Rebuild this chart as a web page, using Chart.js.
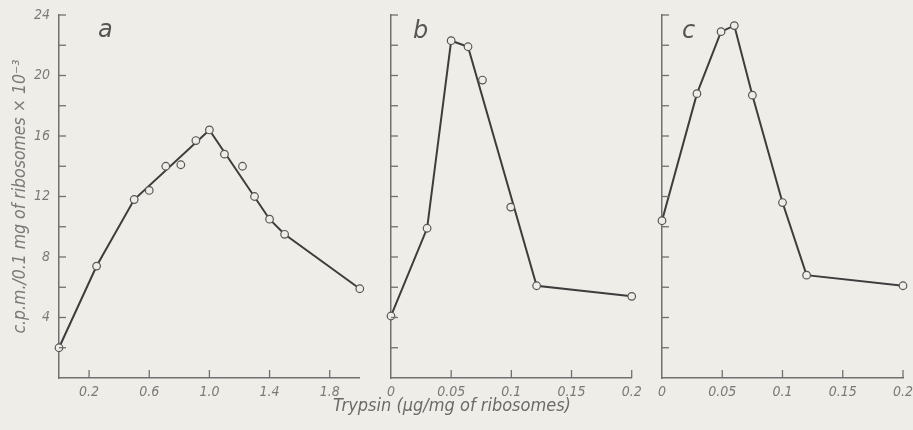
<!DOCTYPE html>
<html><head><meta charset="utf-8">
<script src="https://cdn.jsdelivr.net/npm/chart.js@4"></script>
<style>
html,body{margin:0;padding:0;background:#efede7;width:913px;height:430px;overflow:hidden;position:relative}
canvas{position:absolute;top:0}
#xt{position:absolute;top:395px;left:332px;width:240px;text-align:center;font:italic 18px 'Liberation Sans Narrow','DejaVu Sans Condensed',sans-serif;color:#6a6a6a;white-space:nowrap;line-height:20px}
</style></head><body>
<canvas id="ca" width="365" height="430" style="left:0"></canvas>
<canvas id="cb" width="282" height="430" style="left:365px"></canvas>
<canvas id="cc" width="281" height="430" style="left:632px"></canvas>
<div id="xt">Trypsin (μg/mg of ribosomes)</div>
<script>
// ---- data ----
const aX = [0, 0.25, 0.5, 0.6, 0.71, 0.81, 0.91, 1.0, 1.1, 1.22, 1.3, 1.4, 1.5, 2.0];
const aY = [2.0, 7.4, 11.8, 12.4, 14.0, 14.1, 15.7, 16.4, 14.8, 14.0, 12.0, 10.5, 9.5, 5.9];
const aLineX = [0, 0.25, 0.5, 1.0, 1.4, 1.5, 2.0];
const aLineY = [2.0, 7.4, 11.8, 16.4, 10.5, 9.5, 5.9];

const bX = [0, 0.03, 0.05, 0.064, 0.076, 0.0995, 0.121, 0.2];
const bY = [4.1, 9.9, 22.3, 21.9, 19.7, 11.3, 6.1, 5.4];
const bLineX = [0, 0.03, 0.05, 0.064, 0.121, 0.2];
const bLineY = [4.1, 9.9, 22.3, 21.9, 6.1, 5.4];

const cX = [0, 0.029, 0.049, 0.06, 0.075, 0.1, 0.12, 0.2];
const cY = [10.4, 18.8, 22.9, 23.3, 18.7, 11.6, 6.8, 6.1];
const cLineX = cX;
const cLineY = cY;

const aXTicks = [0.2, 0.6, 1.0, 1.4, 1.8];
const aXTickLabels = ['0.2', '0.6', '1.0', '1.4', '1.8'];
const bcXTicks = [0, 0.05, 0.1, 0.15, 0.2];
const bcXTickLabels = ['0', '0.05', '0.1', '0.15', '0.2'];
const yTicks = [2, 4, 6, 8, 10, 12, 14, 16, 18, 20, 22, 24];
const yTickLabels = ['', '4', '', '8', '', '12', '', '16', '', '20', '', '24'];
const yTitle = 'c.p.m./0.1 mg of ribosomes × 10⁻³';
const panelLetters = ['a', 'b', 'c'];

// ---- style ----
const FONT = "'Liberation Sans Narrow','DejaVu Sans Condensed',sans-serif";
const BG = '#efede7';
const AXIS = '#707070';
const TXT = '#7a7a7a';
const LINE = '#3d3d3d';

function pts(xs, ys) { return xs.map((x, i) => ({x: x, y: ys[i]})); }

const inTicks = {
  id: 'inTicks',
  afterDatasetsDraw(chart, args, opts) {
    const ctx = chart.ctx, ca = chart.chartArea;
    ctx.save();
    ctx.strokeStyle = AXIS; ctx.lineWidth = 1.3;
    const xs = chart.scales.x, ys = chart.scales.y;
    xs.ticks.forEach(t => {
      if (t.value === 0) return;
      const px = xs.getPixelForValue(t.value);
      ctx.beginPath(); ctx.moveTo(px, ca.bottom); ctx.lineTo(px, ca.bottom - 8); ctx.stroke();
    });
    ys.ticks.forEach(t => {
      const py = ys.getPixelForValue(t.value);
      ctx.beginPath(); ctx.moveTo(ca.left, py); ctx.lineTo(ca.left + 7, py); ctx.stroke();
    });
    // panel letter
    ctx.fillStyle = '#555';
    ctx.font = "italic 24px 'DejaVu Sans',sans-serif";
    ctx.textBaseline = 'alphabetic';
    ctx.fillText(opts.letter, ca.left + opts.dx, opts.by);
    ctx.restore();
  }
};

function makeChart(id, cfg) {
  const ds = [
    {data: pts(cfg.px, cfg.py), showLine: false, pointRadius: 3.8, pointBorderWidth: 1.2,
     pointBorderColor: '#555', pointBackgroundColor: BG, clip: false},
    {data: pts(cfg.lx, cfg.ly), showLine: true, pointRadius: 0, borderColor: LINE,
     borderWidth: 2, tension: 0, clip: false}
  ];
  return new Chart(document.getElementById(id), {
    type: 'scatter',
    data: {datasets: ds},
    options: {
      responsive: false, animation: false, devicePixelRatio: 1,
      layout: {padding: {top: 15, right: cfg.padR, left: 0, bottom: 0}},
      plugins: {legend: {display: false}, tooltip: {enabled: false},
                inTicks: {letter: cfg.letter, dx: cfg.ldx, by: cfg.lby}},
      scales: {
        x: {
          type: 'linear', min: cfg.xmin, max: cfg.xmax,
          afterBuildTicks: s => { s.ticks = cfg.xt.map(v => ({value: v})); },
          afterFit: s => { s.height = 52; s.paddingLeft = 0; s.paddingRight = 0; },
          grid: {display: true, drawOnChartArea: false, drawTicks: false},
          border: {display: true, color: AXIS, width: 1.5},
          ticks: {padding: 6, color: TXT, font: {family: FONT, size: 14, style: 'italic'},
                  maxRotation: 0, autoSkip: false,
                  callback: (v) => { const i = cfg.xt.indexOf(v); return i >= 0 ? cfg.xl[i] : ''; }}
        },
        y: {
          type: 'linear', min: 0, max: 24,
          afterBuildTicks: s => { s.ticks = yTicks.map(v => ({value: v})); },
          afterFit: s => { s.width = cfg.yw; s.paddingTop = 0; s.paddingBottom = 0; },
          grid: {display: true, drawOnChartArea: false, drawTicks: false},
          border: {display: true, color: AXIS, width: 1.5},
          ticks: {display: cfg.yLabels, padding: 9, color: TXT, autoSkip: false,
                  font: {family: FONT, size: 14, style: 'italic'},
                  callback: (v) => { const i = yTicks.indexOf(v); return i >= 0 ? yTickLabels[i] : ''; }},
          title: {display: cfg.yLabels, text: yTitle, color: TXT,
                  font: {family: FONT, size: 17.5, style: 'italic'}, padding: {top: 10, bottom: 0}}
        }
      }
    },
    plugins: [inTicks]
  });
}

makeChart('ca', {px: aX, py: aY, lx: aLineX, ly: aLineY, xmin: 0, xmax: 2.0,
  xt: aXTicks, xl: aXTickLabels, yw: 59, padR: 5, yLabels: true, letter: panelLetters[0], ldx: 39, lby: 37});
makeChart('cb', {px: bX, py: bY, lx: bLineX, ly: bLineY, xmin: 0, xmax: 0.2,
  xt: bcXTicks, xl: bcXTickLabels, yw: 26, padR: 15.3, yLabels: false, letter: panelLetters[1], ldx: 22, lby: 38});
makeChart('cc', {px: cX, py: cY, lx: cLineX, ly: cLineY, xmin: 0, xmax: 0.2,
  xt: bcXTicks, xl: bcXTickLabels, yw: 30, padR: 10, yLabels: false, letter: panelLetters[2], ldx: 20, lby: 38});
</script>
</body></html>
